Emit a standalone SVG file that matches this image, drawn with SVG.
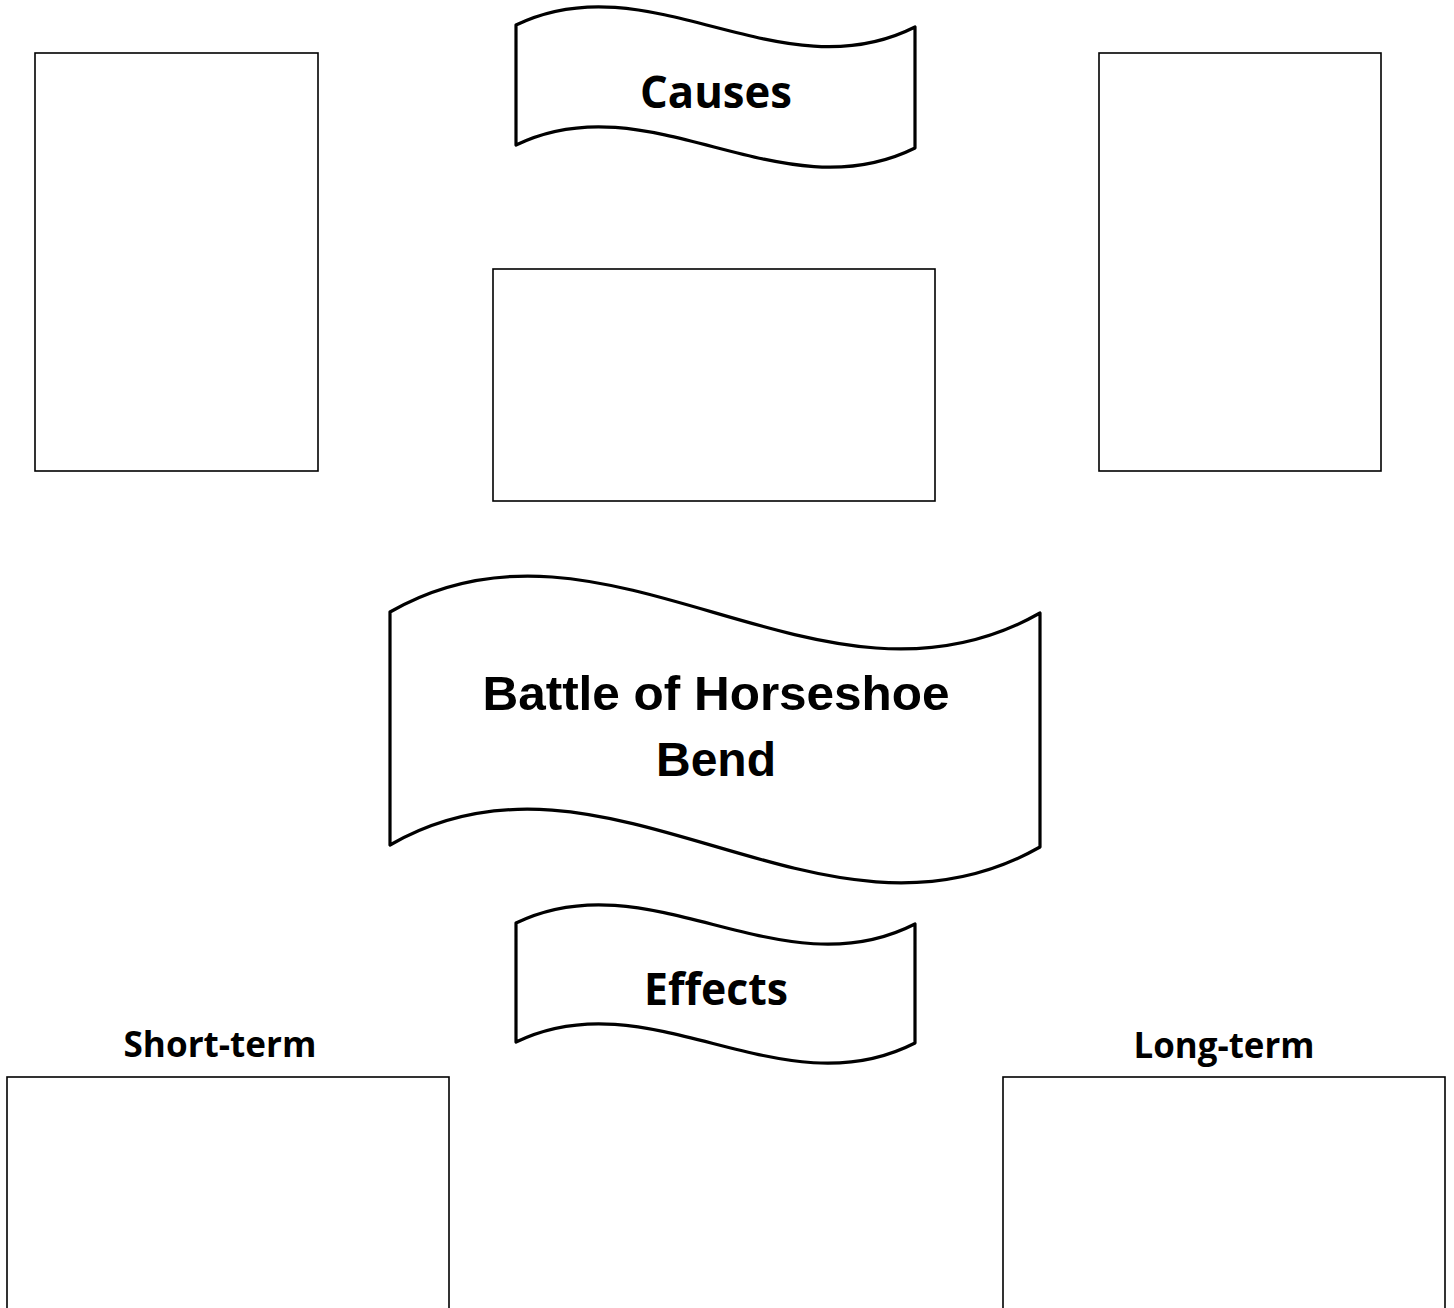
<svg xmlns="http://www.w3.org/2000/svg" width="1454" height="1308" viewBox="0 0 1454 1308">
<style>
.box{fill:#fff;stroke:#000;stroke-width:1.6}
.wave{fill:#fff;stroke:#000;stroke-width:3.2;stroke-linejoin:round}
.cal{font-family:"Open Sans","Liberation Sans",sans-serif;font-weight:bold;fill:#000;text-anchor:middle}
.ari{font-family:"Liberation Sans",Arial,sans-serif;font-weight:bold;fill:#000;text-anchor:middle}
</style>
<rect width="1454" height="1308" fill="#fff"/>
<g id="connectors"/>
<g id="box-cause-left"><rect class="box" x="35" y="53" width="283" height="418"/></g>
<g id="box-cause-center"><rect class="box" x="493" y="269" width="442" height="232"/></g>
<g id="box-cause-right"><rect class="box" x="1099" y="53" width="282" height="418"/></g>
<g id="banner-causes">
<path class="wave" d="M516,25 C650,-40 780,95 915,27 L915,148 C780,215 650,80 516,145 Z"/>
<text class="cal" x="716" y="108" font-size="44" textLength="152" lengthAdjust="spacingAndGlyphs">Causes</text>
</g>
<g id="banner-main">
<path class="wave" d="M390,612 C607,487 820,738 1040,613 L1040,847 C820,972 607,720 390,845 Z"/>
<text class="ari" x="716" y="710" font-size="48" textLength="467" lengthAdjust="spacingAndGlyphs">Battle of  Horseshoe</text>
<text class="ari" x="716" y="776" font-size="48">Bend</text>
</g>
<g id="banner-effects">
<path class="wave" d="M516,923 C650,858 780,993 915,924 L915,1043 C780,1112 650,977 516,1042 Z"/>
<text class="cal" x="716" y="1005" font-size="44" textLength="144" lengthAdjust="spacingAndGlyphs">Effects</text>
</g>
<g id="short-term">
<text class="cal" x="220" y="1057" font-size="36" textLength="193" lengthAdjust="spacingAndGlyphs">Short-term</text>
<rect class="box" x="7" y="1077" width="442" height="240"/>
</g>
<g id="long-term">
<text class="cal" x="1224" y="1058" font-size="36" textLength="181" lengthAdjust="spacingAndGlyphs">Long-term</text>
<rect class="box" x="1003" y="1077" width="442" height="240"/>
</g>
</svg>
